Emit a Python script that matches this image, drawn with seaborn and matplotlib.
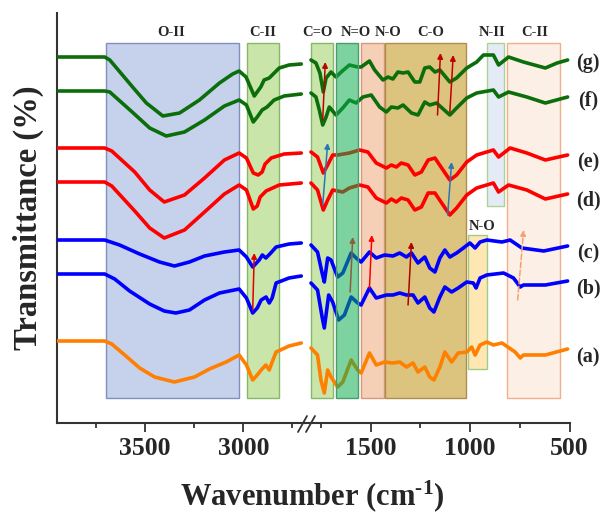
import numpy as np
import pandas as pd
import matplotlib.pyplot as plt
import seaborn as sns
from matplotlib.patches import Rectangle
from matplotlib.lines import Line2D

# FTIR spectra, wavenumber (cm-1) and transmittance (a.u., stacked)
wn_a = [3950, 3705, 3669, 3603, 3527, 3451, 3350, 3248, 3172, 3087, 3021, 2984, 2952, 2929, 2909, 2885, 2868, 2853, 2833, 2767, 2705,
        1800, 1767, 1750, 1733, 1716, 1699, 1666, 1640, 1598, 1565, 1548, 1506, 1472, 1430, 1388, 1354, 1320, 1287, 1262, 1228,
        1203, 1182, 1152, 1127, 1093, 1060, 1017, 992, 975, 950, 916, 883, 840, 774, 748, 732, 622, 510]
t_a = [91, 91, 88, 77, 64, 55, 50, 55, 63, 70, 77, 67, 52, 57, 62, 67, 62, 70, 80, 86, 89,
       84, 77, 52, 39, 62, 55, 45, 50, 72, 62, 59, 79, 67, 70, 69, 70, 65, 69, 60, 65,
       55, 52, 65, 80, 70, 79, 80, 85, 77, 87, 90, 87, 89, 80, 74, 77, 77, 83]

wn_b = [3950, 3705, 3654, 3578, 3476, 3402, 3343, 3274, 3197, 3121, 3021, 2984, 2952, 2929, 2909, 2884, 2868, 2853, 2833, 2767, 2705,
        1800, 1767, 1744, 1733, 1711, 1691, 1661, 1632, 1598, 1565, 1548, 1506, 1472, 1421, 1388, 1354, 1320, 1287, 1262, 1228,
        1203, 1182, 1152, 1127, 1093, 1060, 1017, 984, 970, 950, 916, 832, 782, 748, 732, 622, 510]
t_b = [158, 158, 153, 141, 128, 121, 119, 122, 132, 139, 143, 134, 119, 124, 132, 135, 129, 134, 149, 154, 156,
       149, 142, 115, 104, 137, 130, 112, 117, 135, 129, 127, 144, 134, 137, 137, 139, 137, 137, 129, 135,
       124, 120, 135, 145, 140, 144, 150, 149, 144, 154, 157, 159, 154, 145, 147, 147, 151]

wn_c = [3950, 3705, 3629, 3527, 3426, 3350, 3274, 3197, 3096, 3021, 2984, 2952, 2919, 2903, 2885, 2860, 2833, 2767, 2705,
        1800, 1767, 1744, 1733, 1716, 1699, 1666, 1640, 1598, 1573, 1548, 1506, 1472, 1430, 1388, 1354, 1320, 1295, 1262, 1228,
        1203, 1177, 1152, 1127, 1102, 1068, 1034, 1001, 975, 950, 916, 840, 799, 740, 630, 510]
t_c = [192, 192, 187, 178, 170, 166, 170, 176, 180, 182, 175, 165, 172, 177, 174, 179, 185, 188, 189,
       187, 180, 159, 150, 174, 172, 155, 159, 179, 174, 170, 180, 174, 177, 176, 179, 175, 179, 169, 175,
       164, 160, 174, 182, 175, 179, 184, 189, 184, 190, 192, 190, 192, 184, 181, 186]

wn_d = [3950, 3705, 3669, 3552, 3476, 3402, 3299, 3197, 3096, 3021, 2984, 2949, 2929, 2914, 2884, 2817, 2705,
        1800, 1767, 1738, 1716, 1691, 1640, 1607, 1556, 1514, 1472, 1421, 1396, 1371, 1346, 1312, 1278, 1245, 1211, 1177, 1143,
        1102, 1068, 1017, 967, 883, 857, 807, 715, 622, 510]
t_d = [250, 250, 246, 221, 204, 194, 202, 220, 238, 247, 242, 223, 226, 235, 241, 247, 249,
       249, 242, 222, 232, 242, 240, 244, 247, 245, 234, 229, 233, 230, 234, 232, 222, 225, 239, 239, 229,
       217, 224, 237, 244, 249, 240, 247, 242, 233, 238]

wn_e = [3950, 3705, 3669, 3552, 3476, 3402, 3299, 3197, 3096, 3021, 2984, 2949, 2924, 2904, 2889, 2858, 2792, 2705,
        1800, 1767, 1738, 1716, 1691, 1666, 1607, 1556, 1514, 1472, 1421, 1396, 1371, 1346, 1312, 1278, 1245, 1211, 1177, 1143,
        1102, 1068, 1017, 967, 883, 857, 799, 715, 622, 510]
t_e = [284, 284, 281, 260, 242, 230, 237, 254, 272, 279, 274, 259, 257, 260, 268, 274, 278, 279,
       280, 275, 259, 267, 277, 277, 279, 282, 280, 269, 264, 267, 265, 269, 267, 257, 260, 272, 274, 264,
       252, 257, 270, 277, 282, 275, 284, 279, 272, 277]

wn_f = [3950, 3705, 3679, 3565, 3476, 3392, 3299, 3197, 3096, 3021, 2984, 2949, 2929, 2904, 2879, 2843, 2792, 2705,
        1800, 1775, 1758, 1741, 1724, 1708, 1674, 1640, 1607, 1573, 1539, 1497, 1455, 1421, 1396, 1363, 1337, 1295, 1262, 1228,
        1203, 1169, 1102, 1068, 1017, 967, 883, 857, 807, 715, 622, 510]
t_f = [341, 341, 340, 320, 304, 296, 300, 312, 326, 332, 327, 310, 315, 322, 325, 332, 336, 338,
       339, 335, 322, 307, 315, 325, 317, 324, 332, 329, 335, 337, 325, 320, 325, 324, 327, 319, 317, 330,
       327, 329, 317, 324, 334, 339, 342, 335, 340, 335, 329, 335]

wn_g = [3950, 3705, 3679, 3563, 3493, 3409, 3324, 3223, 3121, 3054, 3021, 2986, 2944, 2911, 2894, 2868, 2817, 2767, 2705,
        1800, 1775, 1755, 1738, 1724, 1699, 1674, 1648, 1607, 1565, 1548, 1506, 1480, 1438, 1413, 1388, 1363, 1337, 1312, 1278,
        1253, 1228, 1203, 1177, 1152, 1102, 1068, 1017, 967, 933, 883, 857, 807, 732, 622, 563, 510]
t_g = [375, 375, 372, 345, 329, 316, 319, 332, 349, 358, 361, 355, 336, 345, 352, 354, 364, 367, 368,
       372, 369, 359, 340, 354, 360, 355, 360, 367, 365, 365, 371, 362, 352, 355, 353, 360, 359, 360, 350,
       350, 364, 365, 360, 362, 350, 354, 364, 370, 377, 377, 367, 375, 370, 364, 369, 372]

sample_labels = ['(a)', '(b)', '(c)', '(d)', '(e)', '(f)', '(g)']

sns.set_style('ticks')
plt.rcParams['font.family'] = ['Liberation Serif', 'DejaVu Serif']
plt.rcParams['font.weight'] = 'bold'
plt.rcParams['mathtext.fontset'] = 'custom'
plt.rcParams['mathtext.rm'] = 'Liberation Serif:bold'
plt.rcParams['mathtext.bf'] = 'Liberation Serif:bold'
plt.rcParams['mathtext.it'] = 'Liberation Serif:italic:bold'

fig = plt.figure(figsize=(6.05, 5.15), dpi=100)
ax_hi = fig.add_axes([56.5 / 605, 91.7 / 515, 248.5 / 605, 410.3 / 515])
ax_lo = fig.add_axes([305 / 605, 91.7 / 515, 264.6 / 605, 410.3 / 515])
ax_hi.set_xlim(3950, 2686)
ax_lo.set_xlim(1830, 500)
for ax in (ax_hi, ax_lo):
    ax.set_ylim(8.7, 419)
    ax.patch.set_alpha(0)

# band boxes: (label, wn_start, wn_end, bottom, top, face, edge, label_x, label_y)
bands = [
    ('O-II', 3700, 3020, 34, 389, '#c6d2ec', '#7f91ba', 3365, 400),
    ('C-II', 2980, 2820, 34, 389, '#c9e5a9', '#86b86a', 2900, 400),
    ('C=O', 1800, 1690, 34, 389, '#c9e5a9', '#86b86a', 1765, 400),
    ('N-O', 1547, 1435, 34, 389, '#f6cfb7', '#d59a7a', 1413, 400),
    ('C-O', 1427, 1020, 34, 389, '#dcc47e', '#b28c4e', 1199, 400),
    ('N-O', 1013, 917, 63, 197, '#fee7b2', '#9fcd86', 941, 206),
    ('N-II', 917, 828, 226, 389, '#e5ebf6', '#a9d495', 891, 400),
    ('C-II', 813, 550, 34, 389, '#fcefe6', '#f1b08b', 677, 400),
]
for name, x0, x1, y0, y1, fc, ec, lx, ly in bands:
    ax = ax_hi if x0 > 2000 else ax_lo
    ax.add_patch(Rectangle((x1, y0), x0 - x1, y1 - y0, facecolor=fc, edgecolor=ec, lw=1.0, zorder=1))
    ax.text(lx, ly, name, ha='center', va='center', fontsize=10.5, fontweight='bold', zorder=7)

# N=O box sits on top of the spectra, semi-transparent
ax_lo.add_patch(Rectangle((1562, 34), 111, 355, facecolor=(0.035, 0.675, 0.294, 0.53),
                          edgecolor='#4f9a6a', lw=1.0, zorder=5))
ax_lo.text(1575, 400, 'N=O', ha='center', va='center', fontsize=10.5, fontweight='bold', zorder=7)

spectra = [
    (wn_a, t_a, '#ff8000', 75),
    (wn_b, t_b, '#0000ff', 144),
    (wn_c, t_c, '#0000ff', 179),
    (wn_d, t_d, '#ff0000', 232),
    (wn_e, t_e, '#ff0000', 270),
    (wn_f, t_f, '#0b6e0b', 332),
    (wn_g, t_g, '#0b6e0b', 369),
]
for lab, (wn, tr, col, ly) in zip(sample_labels, spectra):
    df = pd.DataFrame({'wn': wn, 't': tr})
    hi = df['wn'] > 2000
    sns.lineplot(data=df[hi], x='wn', y='t', ax=ax_hi, color=col, lw=2.6, estimator=None, zorder=3)
    sns.lineplot(data=df[~hi], x='wn', y='t', ax=ax_lo, color=col, lw=2.6, estimator=None, zorder=3)
    ax_lo.text(1.07, ly, lab, transform=ax_lo.get_yaxis_transform(), ha='center', va='center',
               fontsize=14.5, fontweight='bold')

# shift arrows
arrows = [
    (ax_hi, (2952, 122), (2944, 179), '#e00000', '-'),
    (ax_lo, (1741, 312), (1728, 370), '#c00000', '-'),
    (ax_lo, (1164, 317), (1149, 379), '#c00000', '-'),
    (ax_lo, (1102, 320), (1085, 377), '#c00000', '-'),
    (ax_lo, (1741, 227), (1716, 289), '#2e75b6', '-'),
    (ax_lo, (1113, 217), (1093, 270), '#2e75b6', '-'),
    (ax_lo, (1603, 140), (1590, 195), '#8b5e3c', '-'),
    (ax_lo, (1506, 144), (1494, 197), '#ff0000', '-'),
    (ax_lo, (1312, 127), (1295, 190), '#b00000', '-'),
    (ax_lo, (761, 132), (731, 202), '#f4a070', '--'),
]
for ax, start, tip, col, ls in arrows:
    ax.annotate('', xy=tip, xytext=start, zorder=6,
                arrowprops=dict(arrowstyle='-|>', color=col, lw=1.1, ls=ls,
                                mutation_scale=8, shrinkA=0, shrinkB=0))

ax_hi.set_xticks([3500, 3000])
ax_hi.set_xticks([3750, 3250, 2750], minor=True)
ax_lo.set_xticks([1500, 1000, 500])
ax_lo.set_xticks([1750, 1250, 750], minor=True)
for ax in (ax_hi, ax_lo):
    ax.set_yticks([])
    ax.set_xlabel('')
    ax.set_ylabel('')
    ax.spines['top'].set_visible(False)
    ax.spines['right'].set_visible(False)
    ax.tick_params(axis='x', which='major', length=6.7, width=1.3, labelsize=18.5, pad=3, color='#333333')
    ax.tick_params(axis='x', which='minor', length=3.6, width=1.3, color='#333333')
    for s in ('left', 'bottom'):
        ax.spines[s].set_linewidth(1.5)
        ax.spines[s].set_color('#333333')
    for lbl in ax.get_xticklabels():
        lbl.set_fontweight('bold')
ax_lo.spines['left'].set_visible(False)

# axis break marks
for dx in (-5, 3):
    fig.add_artist(Line2D([(298 + dx + 5) / 605, (307 + dx + 5) / 605],
                          [1 - 432 / 515, 1 - 416 / 515], color='#333333', lw=1.3))

fig.text(28 / 605, 1 - 218 / 515, 'Transmittance (%)', rotation=90, ha='center', va='center',
         fontsize=23.5, fontweight='bold')
fig.text(312 / 605, 1 - 505 / 515, r'Wavenumber (cm$^{\text{-1}}$)', ha='center', va='baseline',
         fontsize=22, fontweight='bold')

fig.savefig('out.png', dpi=100)
